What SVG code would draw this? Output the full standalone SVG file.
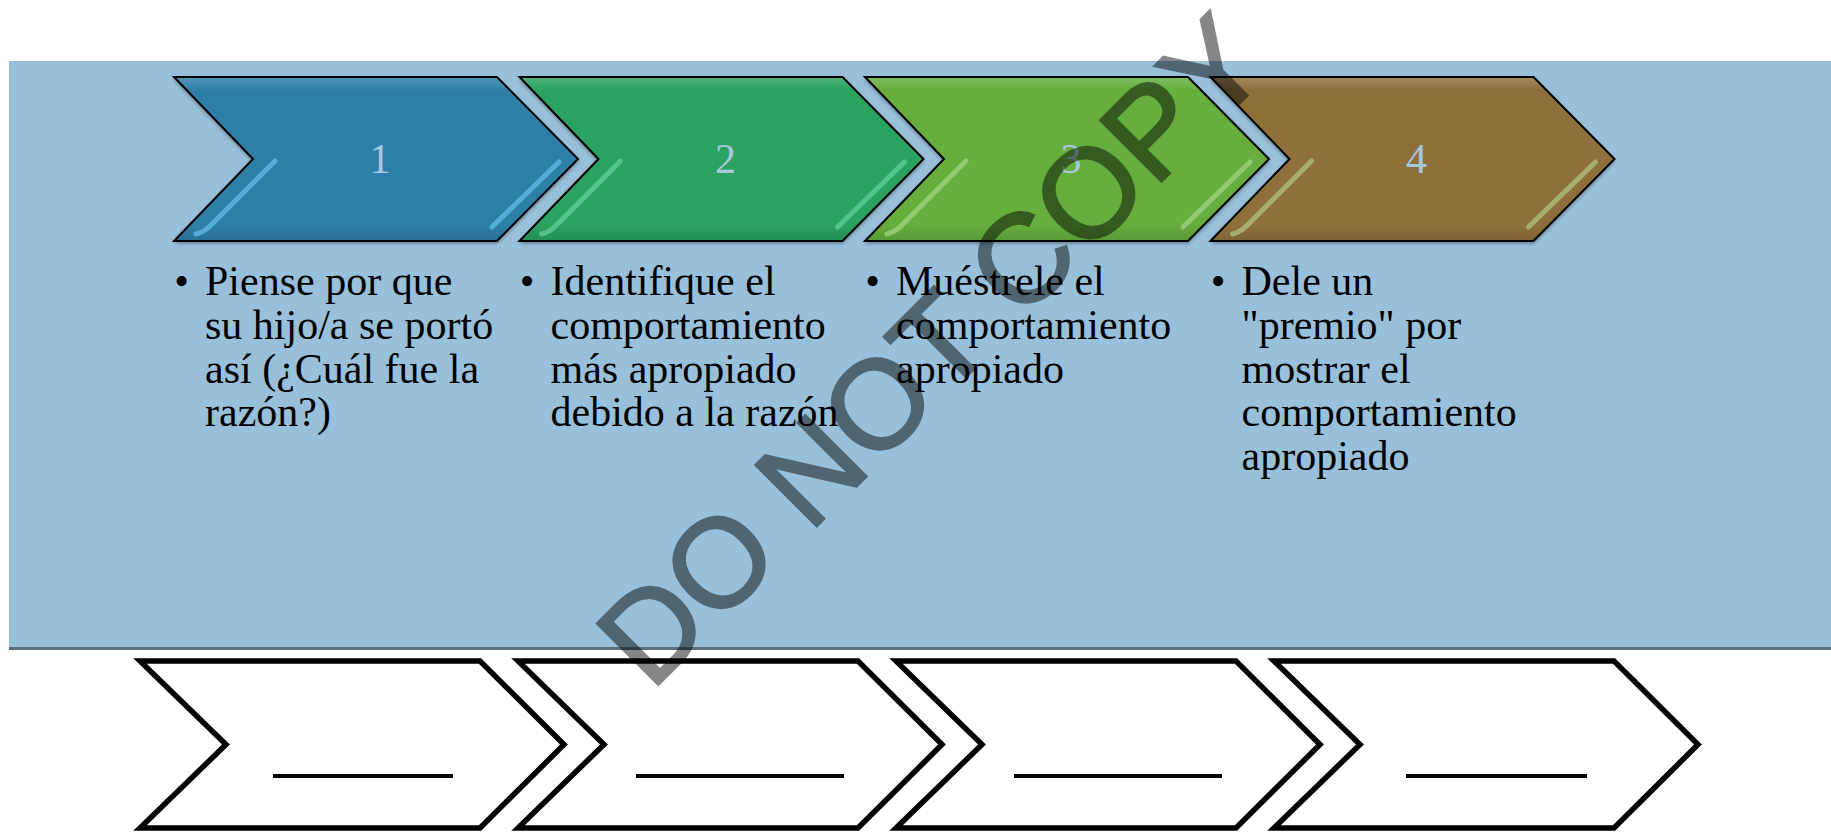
<svg xmlns="http://www.w3.org/2000/svg" width="1831" height="832" viewBox="0 0 1831 832">
<style>
.num{font-family:"Liberation Serif","Times New Roman",serif;font-size:42px;fill:#a8c8e0;text-anchor:middle}
.txt{font-family:"Liberation Serif","Times New Roman",serif;font-size:42px;fill:#000}
.blt{font-family:"Liberation Serif","Times New Roman",serif;font-size:42px;fill:#000;text-anchor:middle}
.edge{fill:none;stroke:#000;stroke-width:2;stroke-linejoin:miter}
.gl{fill:none;stroke-width:5;stroke-linecap:round;opacity:.75}
.bc{fill:#fff;stroke:#000;stroke-width:5.5;stroke-linejoin:miter}
.ul{stroke:#000;stroke-width:4}
.wm{font-family:"Liberation Sans",Arial,sans-serif;font-size:126px;font-weight:normal;fill:#000;stroke:#000;stroke-width:2.5;stroke-linejoin:miter}
</style>
<defs>
<path id="tc" d="M0,77 L323,77 L404,159 L323,241 L0,241 L79,159 Z"/>
<path id="bcp" d="M0,661 L340,661 L424,744.5 L340,828 L0,828 L86,744.5 Z"/>
<filter id="sh" x="-10%" y="-10%" width="120%" height="130%">
<feDropShadow dx="0" dy="2" stdDeviation="2" flood-color="#000" flood-opacity="0.45"/>
</filter>
<linearGradient id="bevel" x1="0" y1="0" x2="0" y2="1">
<stop offset="0" stop-color="#fff" stop-opacity="0.18"/>
<stop offset="0.08" stop-color="#fff" stop-opacity="0"/>
<stop offset="0.9" stop-color="#000" stop-opacity="0"/>
<stop offset="1" stop-color="#000" stop-opacity="0.12"/>
</linearGradient>
</defs>
<rect x="0" y="0" width="1831" height="832" fill="#fff"/>
<g id="band">
<rect x="9" y="61" width="1822" height="587" fill="#99c0da"/>
<line x1="9" y1="648.5" x2="1831" y2="648.5" stroke="#5a6f7e" stroke-width="3"/>
</g>
<g id="step1" transform="translate(174,0)">
<use href="#tc" fill="#2d7fa8" filter="url(#sh)"/>
<use href="#tc" fill="url(#bevel)"/>
<use href="#tc" class="edge"/>
<path class="gl" stroke="#62bde6" d="M101,161 L36,226 Q30,232 22,234"/>
<path class="gl" stroke="#62bde6" d="M385,162 L318,227"/>
<text class="num" x="206" y="173">1</text>
</g>
<g id="step2" transform="translate(519.5,0)">
<use href="#tc" fill="#2aa260" filter="url(#sh)"/>
<use href="#tc" fill="url(#bevel)"/>
<use href="#tc" class="edge"/>
<path class="gl" stroke="#62cf9b" d="M101,161 L36,226 Q30,232 22,234"/>
<path class="gl" stroke="#62cf9b" d="M385,162 L318,227"/>
<text class="num" x="206" y="173">2</text>
</g>
<g id="step3" transform="translate(865,0)">
<use href="#tc" fill="#66ae3c" filter="url(#sh)"/>
<use href="#tc" fill="url(#bevel)"/>
<use href="#tc" class="edge"/>
<path class="gl" stroke="#a3d283" d="M101,161 L36,226 Q30,232 22,234"/>
<path class="gl" stroke="#a3d283" d="M385,162 L318,227"/>
<text class="num" x="206" y="173">3</text>
</g>
<g id="step4" transform="translate(1210.5,0)">
<use href="#tc" fill="#8f703b" filter="url(#sh)"/>
<use href="#tc" fill="url(#bevel)"/>
<use href="#tc" class="edge"/>
<path class="gl" stroke="#aec385" d="M101,161 L36,226 Q30,232 22,234"/>
<path class="gl" stroke="#aec385" d="M385,162 L318,227"/>
<text class="num" x="206" y="173">4</text>
</g>
<g id="text1">
<text class="blt" x="181.5" y="295">•</text>
<text class="txt" x="205" y="295">Piense por que</text>
<text class="txt" x="205" y="339">su hijo/a se portó</text>
<text class="txt" x="205" y="383">así (¿Cuál fue la</text>
<text class="txt" x="205" y="426">razón?)</text>
</g>
<g id="text2">
<text class="blt" x="527" y="295">•</text>
<text class="txt" x="550.5" y="295">Identifique el</text>
<text class="txt" x="550.5" y="339">comportamiento</text>
<text class="txt" x="550.5" y="383">más apropiado</text>
<text class="txt" x="550.5" y="426">debido a la razón</text>
</g>
<g id="text3">
<text class="blt" x="872.5" y="295">•</text>
<text class="txt" x="896" y="295">Muéstrele el</text>
<text class="txt" x="896" y="339">comportamiento</text>
<text class="txt" x="896" y="383">apropiado</text>
</g>
<g id="text4">
<text class="blt" x="1218" y="295">•</text>
<text class="txt" x="1241.5" y="295">Dele un</text>
<text class="txt" x="1241.5" y="339">"premio" por</text>
<text class="txt" x="1241.5" y="383">mostrar el</text>
<text class="txt" x="1241.5" y="426">comportamiento</text>
<text class="txt" x="1241.5" y="470">apropiado</text>
</g>
<g id="blank1">
<use href="#bcp" class="bc" transform="translate(140,0)"/>
<line class="ul" x1="273" y1="776" x2="453" y2="776"/>
</g>
<g id="blank2">
<use href="#bcp" class="bc" transform="translate(518,0)"/>
<line class="ul" x1="636" y1="776" x2="844" y2="776"/>
</g>
<g id="blank3">
<use href="#bcp" class="bc" transform="translate(896,0)"/>
<line class="ul" x1="1014" y1="776" x2="1222" y2="776"/>
</g>
<g id="blank4">
<use href="#bcp" class="bc" transform="translate(1274,0)"/>
<line class="ul" x1="1406" y1="776" x2="1587" y2="776"/>
</g>
<g id="connectors"/>
<g id="watermark" opacity="0.47">
<text class="wm" transform="translate(651,692) rotate(-45)">DO NOT COPY</text>
</g>
</svg>
